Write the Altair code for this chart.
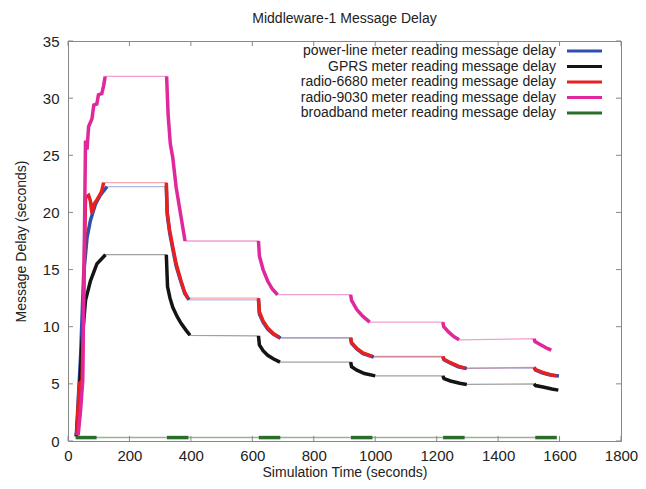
import altair as alt
import pandas as pd

FONT = "Liberation Sans"

SERIES = ["power-line", "GPRS", "radio-6680", "radio-9030", "broadband"]
LABELS = [s + " meter reading message delay" for s in SERIES]
COLORS = ["#2f4fb0", "#141414", "#e82020", "#e0289c", "#2b6e2b"]

BURST_STARTS = [0, 300, 600, 900, 1200, 1500]

POWERLINE_T = [27, 41, 51, 62, 73, 89, 105, 121, 127,
               320, 323, 331, 341, 352, 368, 380, 394,
               620, 623, 635, 650, 668, 692,
               920, 923, 940, 960, 995,
               1220, 1224, 1245, 1270, 1298,
               1517, 1522, 1545, 1570, 1598]
POWERLINE_V = [0.4, 7.4, 14.6, 17.8, 19.3, 20.7, 21.5, 22.05, 22.25,
               22.25, 19.8, 18.2, 16.8, 15.3, 13.9, 12.9, 12.35,
               12.35, 11.1, 10.4, 9.8, 9.35, 9.0,
               9.0, 8.55, 8.05, 7.65, 7.35,
               7.35, 7.1, 6.8, 6.5, 6.35,
               6.4, 6.2, 5.95, 5.78, 5.68]

GPRS_T = [27, 35, 46, 57, 73, 94, 122,
          320, 324, 332, 341, 355, 368, 384, 397,
          620, 623, 635, 650, 668, 690,
          920, 923, 940, 965, 1000,
          1220, 1224, 1245, 1275, 1298,
          1517, 1522, 1550, 1575, 1596]
GPRS_V = [0.4, 3.0, 8.8, 12.3, 14.0, 15.5, 16.3,
          16.3, 13.5, 12.5, 11.7, 10.9, 10.3, 9.7, 9.25,
          9.2, 8.4, 7.9, 7.5, 7.2, 6.9,
          6.9, 6.5, 6.2, 5.9, 5.7,
          5.7, 5.45, 5.25, 5.05, 4.95,
          5.0, 4.85, 4.7, 4.55, 4.45]

RADIO6680_T = [28, 37, 46, 57, 67, 73, 78, 84, 94, 105, 110, 116,
               320, 323, 331, 341, 352, 368, 380, 390,
               620, 623, 635, 650, 668, 688,
               920, 923, 940, 960, 990,
               1220, 1224, 1245, 1270, 1292,
               1517, 1522, 1545, 1570, 1590]
RADIO6680_V = [0.5, 5.0, 5.3, 21.3, 21.5, 21.0, 19.9, 20.7, 21.1, 21.6, 21.9, 22.6,
               22.6, 20.0, 18.4, 17.0, 15.5, 14.0, 13.0, 12.5,
               12.5, 11.3, 10.5, 9.9, 9.4, 9.05,
               9.05, 8.6, 8.1, 7.7, 7.4,
               7.4, 7.15, 6.85, 6.55, 6.38,
               6.45, 6.25, 6.0, 5.8, 5.7]

RADIO9030_T = [33, 41, 48, 57, 62, 67, 78, 84, 94, 99, 110, 116, 121,
               321, 326, 333, 341, 352, 368, 381,
               620, 623, 635, 650, 665, 682,
               920, 923, 940, 960, 982,
               1220, 1223, 1240, 1258, 1273,
               1517, 1520, 1540, 1560, 1573]
RADIO9030_V = [0.5, 2.7, 5.3, 26.3, 25.5, 27.5, 28.2, 29.4, 29.5, 30.3, 30.4, 31.1, 31.9,
               31.9, 28.5, 26.0, 24.8, 22.2, 19.6, 17.5,
               17.5, 16.2, 15.0, 14.0, 13.3, 12.8,
               12.8, 12.3, 11.5, 10.9, 10.4,
               10.4, 10.0, 9.5, 9.1, 8.85,
               8.95, 8.7, 8.4, 8.1, 7.95]

BROADBAND_T = [25, 93, 322, 392, 621, 691, 921, 991, 1221, 1291, 1521, 1591]
BROADBAND_V = [0.3, 0.3, 0.3, 0.3, 0.3, 0.3, 0.3, 0.3, 0.3, 0.3, 0.3, 0.3]

X_TICKS = [0, 200, 400, 600, 800, 1000, 1200, 1400, 1600, 1800]
Y_TICKS = [0, 5, 10, 15, 20, 25, 30, 35]

LEG_Y = [10, 25.5, 41, 56.5, 72]

W, H = 553, 400

series_data = [
    (POWERLINE_T, POWERLINE_V),
    (GPRS_T, GPRS_V),
    (RADIO6680_T, RADIO6680_V),
    (RADIO9030_T, RADIO9030_V),
    (BROADBAND_T, BROADBAND_V),
]

rows = []
for name, (ts, vs) in zip(SERIES, series_data):
    for t, v in zip(ts, vs):
        burst = sum(1 for s in BURST_STARTS if t >= s)
        rows.append({"series": name, "t": t, "v": v, "burst": burst})
df = pd.DataFrame(rows)

xscale = alt.Scale(domain=[0, 1800], nice=False)
yscale = alt.Scale(domain=[0, 35], nice=False)

x_enc = alt.X("t:Q", title="Simulation Time (seconds)", scale=xscale,
              axis=alt.Axis(values=X_TICKS, ticks=False, domain=False, grid=False,
                            labelFlush=False, labelPadding=7, labelFontSize=15,
                            labelFont=FONT, labelColor="#222", titleFont=FONT,
                            titleFontSize=14, titleFontWeight="normal", titleColor="#222",
                            titlePadding=2, format="d"))
y_enc = alt.Y("v:Q", title="Message Delay (seconds)", scale=yscale,
              axis=alt.Axis(values=Y_TICKS, ticks=False, domain=False, grid=False,
                            labelPadding=9, labelFontSize=15, labelFont=FONT,
                            labelColor="#222", titleFont=FONT, titleFontSize=14,
                            titleFontWeight="normal", titleColor="#222",
                            titlePadding=14, format="d"))

base = alt.Chart(df)
layers = []
THIN_OPACITY = [0.4, 0.4, 0.4, 0.45, 0.5]
THIN_WIDTH = [1.3, 1.3, 1.3, 1.3, 1.6]
for name, col, op, sw in zip(SERIES, COLORS, THIN_OPACITY, THIN_WIDTH):
    layers.append(
        base.transform_filter(alt.datum.series == name)
        .mark_line(color=col, strokeWidth=sw, opacity=op)
        .encode(x=x_enc, y=y_enc, order="t:Q")
    )
for name, col in zip(SERIES, COLORS):
    layers.append(
        base.transform_filter(alt.datum.series == name)
        .mark_line(color=col, strokeWidth=3.5, strokeCap="butt")
        .encode(x=x_enc, y=y_enc, detail="burst:N", order="t:Q")
    )

# inward mirror ticks
xt = pd.DataFrame({"t": X_TICKS})
yt = pd.DataFrame({"v": Y_TICKS})
tick_col = "#888"
layers.append(alt.Chart(xt).mark_rule(color=tick_col).encode(
    x=x_enc, y=alt.value(H), y2=alt.value(H - 5)))
layers.append(alt.Chart(xt).mark_rule(color=tick_col).encode(
    x=x_enc, y=alt.value(0), y2=alt.value(5)))
layers.append(alt.Chart(yt).mark_rule(color=tick_col).encode(
    y=y_enc, x=alt.value(0), x2=alt.value(5)))
layers.append(alt.Chart(yt).mark_rule(color=tick_col).encode(
    y=y_enc, x=alt.value(W), x2=alt.value(W - 5)))

# legend (inside, top-right, symbols on the right)
for i, (lab, col) in enumerate(zip(LABELS, COLORS)):
    ldf = pd.DataFrame({"label": [lab]})
    layers.append(alt.Chart(ldf).mark_text(align="right", baseline="middle",
                                           fontSize=14, font=FONT, color="#222").encode(
        text="label:N", x=alt.value(488), y=alt.value(LEG_Y[i])))
    layers.append(alt.Chart(ldf).mark_rule(color=col, strokeWidth=3).encode(
        x=alt.value(499), x2=alt.value(534), y=alt.value(LEG_Y[i])))

chart = alt.layer(*layers).properties(
    width=W, height=H,
    title=alt.TitleParams("Middleware-1 Message Delay", fontSize=14, fontWeight="normal",
                          font=FONT, color="#222", offset=8),
    padding={"left": 60, "top": 33, "right": 17, "bottom": 39},
    autosize=alt.AutoSizeParams(type="none"),
).configure_view(stroke="#888", strokeWidth=1)

chart.save("out.html", embed_options={"renderer": "svg", "actions": False})
